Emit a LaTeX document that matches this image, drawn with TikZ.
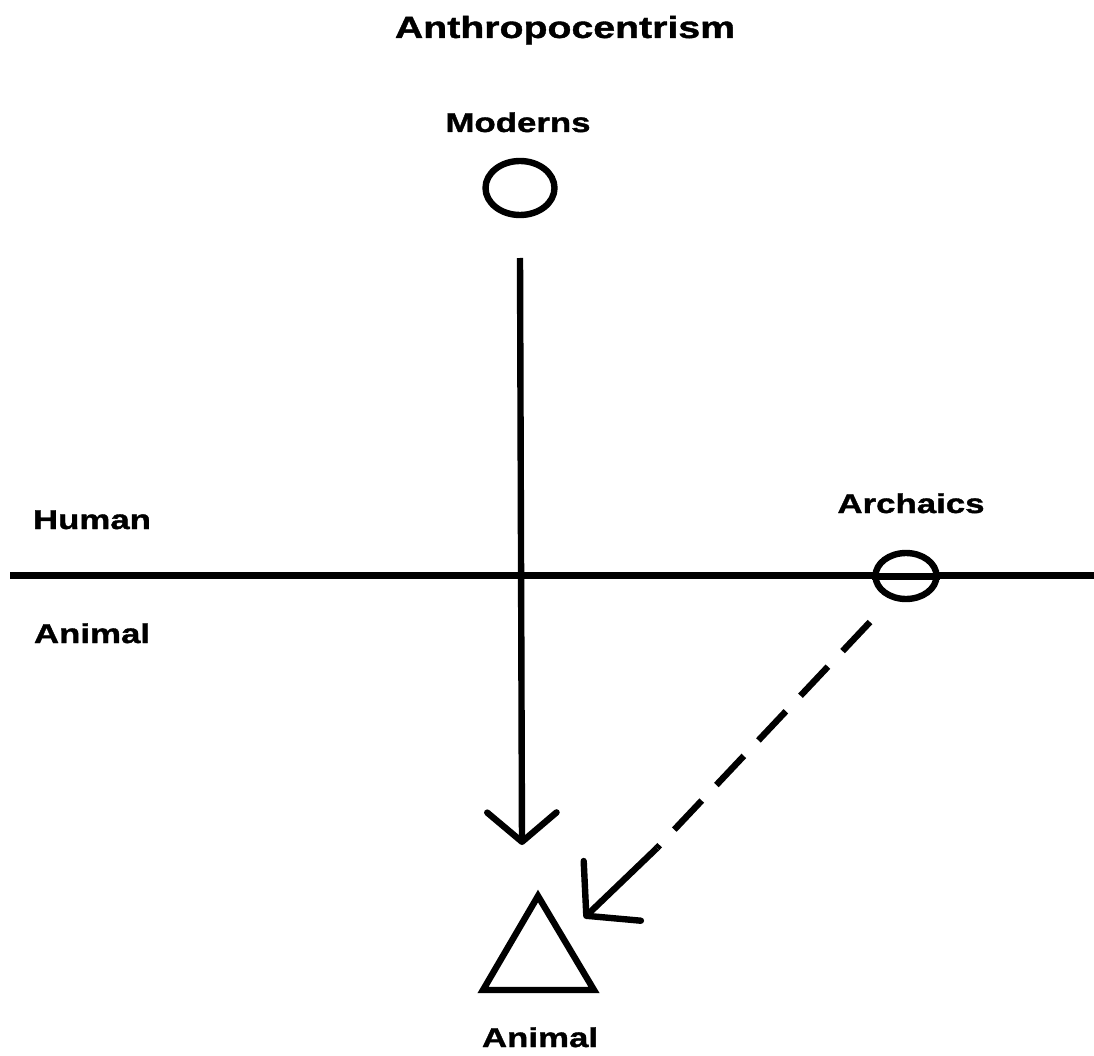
\documentclass[tikz,border=0pt]{standalone}
\usepackage{fontspec}
\newfontfamily\labfont{Liberation Sans}[FakeStretch=1.28, BoldFeatures={FakeBold=1.3}]
\usetikzlibrary{arrows.meta,shapes.geometric}
\begin{document}
\begin{tikzpicture}[x=0.75pt,y=-0.75pt,
  lab/.style={font=\labfont\bfseries\fontsize{20.4}{24}\selectfont, inner sep=0pt, anchor=base},
  ttl/.style={font=\labfont\bfseries\fontsize{23}{28}\selectfont, inner sep=0pt, anchor=base},
  ring/.style={draw, ellipse, line width=4.8pt, inner sep=0pt},
  stroke/.style={line width=4.8pt},
  barb/.style={-{Straight Barb[length=22pt,width=52pt,round]}},
  bigbarb/.style={-{Straight Barb[length=27pt,width=62pt,round]}}
]
\useasboundingbox (0,0) rectangle (1094,1055);

% labels
\node[ttl] (title) at (565,38) {Anthropocentrism};
\node[lab] (modernslab) at (518,132) {Moderns};
\node[lab] (human) at (92,529) {Human};
\node[lab] (animalleft) at (92,643) {Animal};
\node[lab] (archaicslab) at (911,513) {Archaics};
\node[lab] (animalbottom) at (540,1047) {Animal};

% horizontal axis
\coordinate (hl) at (10,575);
\coordinate (hr) at (1094,575);
\draw[line width=5.25pt] (hl) -- (hr);

% ellipses
\node[ring, minimum width=51.75pt, minimum height=40.5pt] (moderns) at (520,188) {};
\node[ring, minimum width=45.75pt, minimum height=34.5pt, fill=white] (archaics) at (906,576) {};
\draw[line width=5.25pt] (archaics.west) -- (archaics.east);

% vertical arrow
\coordinate (vtop) at (520,258);
\coordinate (vtip) at (522,845);
\draw[stroke, barb] (vtop) -- (vtip);

% dashed arrow
\coordinate (dstart) at (870,622);
\coordinate (dend) at (657,848);
\coordinate (dtip) at (584,918);
\draw[stroke, dash pattern=on 30pt off 16pt] (dstart) -- (dend);
\draw[stroke, bigbarb] (dend) -- (dtip);

% triangle
\coordinate (tA) at (538,896);
\coordinate (tB) at (594,990);
\coordinate (tC) at (483,990);
\draw[stroke, line join=miter] (tA) -- (tB) -- (tC) -- cycle;
\end{tikzpicture}
\end{document}
